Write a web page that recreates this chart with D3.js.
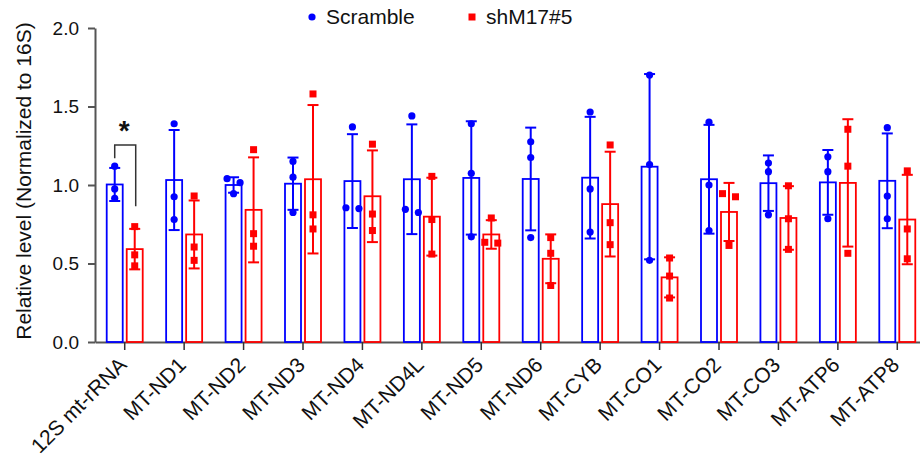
<!DOCTYPE html>
<html>
<head>
<meta charset="utf-8">
<script src="https://cdn.jsdelivr.net/npm/d3@7"></script>
<style>
  body { margin: 0; background: #fff; }
  svg text { font-family: "Liberation Sans", Arial, sans-serif; fill: #111; }
</style>
</head>
<body>
<div id="chart"></div>
<script>
var width = 920, height = 461;

// genes on the x axis
var categories = ["12S mt-rRNA", "MT-ND1", "MT-ND2", "MT-ND3", "MT-ND4", "MT-ND4L", "MT-ND5",
    "MT-ND6", "MT-CYB", "MT-CO1", "MT-CO2", "MT-CO3", "MT-ATP6", "MT-ATP8"];

// three replicates per gene
var scramble = [
    [1.12, 0.975, 0.915],
    [1.39, 0.925, 0.78],
    [1.04, 1.015, 0.945],
    [1.15, 1.05, 0.825],
    [1.37, 0.85, 0.855],
    [1.44, 0.825, 0.845],
    [1.39, 1.075, 0.67],
    [1.275, 1.175, 0.665],
    [1.465, 0.975, 0.70],
    [1.70, 1.13, 0.52],
    [1.40, 1.00, 0.71],
    [1.14, 1.085, 0.81],
    [1.18, 1.085, 0.785],
    [1.365, 0.93, 0.785]
];
var shM17 = [
    [0.735, 0.555, 0.485],
    [0.93, 0.605, 0.52],
    [1.225, 0.69, 0.61],
    [1.58, 0.81, 0.72],
    [1.26, 0.815, 0.71],
    [1.055, 0.78, 0.56],
    [0.79, 0.63, 0.635],
    [0.665, 0.565, 0.36],
    [1.255, 0.76, 0.62],
    [0.535, 0.42, 0.28],
    [0.945, 0.925, 0.615],
    [0.995, 0.785, 0.59],
    [1.355, 1.12, 0.565],
    [1.09, 0.72, 0.53]
];

var seriesNames = ["Scramble", "shM17#5"];
var seriesColors = ["#0000ff", "#ff0000"];
var yTicks = [0, 0.5, 1.0, 1.5, 2.0];

// significance bracket on 12S: [top, left leg end, right leg end]
var sigBracket = [1.255, 1.17, 0.865];

var svg = d3.select("#chart")
    .append("svg")
        .attr("width", width)
        .attr("height", height);

var x = d3.scaleBand()
    .domain(categories)
    .range([95, 927]);

var y = d3.scaleLinear()
    .domain([0, 2])
    .range([342, 28]);

// y axis
var yaxis = svg.append("g")
    .attr("transform", "translate(95,0)")
    .call(d3.axisLeft(y).tickValues(yTicks).tickFormat(d3.format(".1f")).tickSize(7).tickSizeOuter(0).tickPadding(9));
yaxis.select(".domain").attr("stroke", "#555").attr("stroke-width", 2);
yaxis.selectAll(".tick line").attr("stroke", "#555").attr("stroke-width", 2);
yaxis.selectAll("text").style("font-size", "19px").attr("fill", "#111");

// x axis
var xaxis = svg.append("g")
    .attr("transform", "translate(0,342)")
    .call(d3.axisBottom(x).tickSize(8).tickSizeOuter(0));
xaxis.select(".domain").attr("stroke", "#555").attr("stroke-width", 2);
xaxis.selectAll(".tick line").attr("stroke", "#333").attr("stroke-width", 1.5);
xaxis.selectAll("text")
    .style("font-size", "21px")
    .attr("fill", "#111")
    .attr("text-anchor", "end")
    .attr("x", 0).attr("y", 0)
    .attr("dy", "0.35em")
    .attr("transform", "translate(-2,19) rotate(-45)");

svg.append("text")
    .attr("transform", "translate(31,181) rotate(-90)")
    .attr("text-anchor", "middle")
    .style("font-size", "21px")
    .text("Relative level (Normalized to 16S)");

// one entry per bar
var groups = [];
[scramble, shM17].forEach(function(series, s) {
    series.forEach(function(vals, i) {
        groups.push({
            cat: categories[i],
            s: s,
            vals: vals,
            mean: d3.mean(vals),
            sd: d3.deviation(vals)
        });
    });
});

function barCenter(d) {
    return x(d.cat) + x.bandwidth() / 2 + (d.s === 0 ? -10 : 10);
}

// bars (outlined)
svg.append("g").selectAll("rect")
    .data(groups)
    .enter().append("rect")
        .attr("x", function(d) { return barCenter(d) - 8; })
        .attr("y", function(d) { return y(d.mean); })
        .attr("width", 16)
        .attr("height", function(d) { return y(0) - y(d.mean); })
        .attr("fill", "none")
        .attr("stroke", function(d) { return seriesColors[d.s]; })
        .attr("stroke-width", 1.8);

// error bars, mean +/- SD
var err = svg.append("g").selectAll("g")
    .data(groups)
    .enter().append("g")
        .attr("stroke", function(d) { return seriesColors[d.s]; })
        .attr("stroke-width", 2);
err.append("line")
    .attr("x1", barCenter).attr("x2", barCenter)
    .attr("y1", function(d) { return y(d.mean - d.sd); })
    .attr("y2", function(d) { return y(d.mean + d.sd); });
err.append("line")
    .attr("x1", function(d) { return barCenter(d) - 5.5; })
    .attr("x2", function(d) { return barCenter(d) + 5.5; })
    .attr("y1", function(d) { return y(d.mean + d.sd); })
    .attr("y2", function(d) { return y(d.mean + d.sd); });
err.append("line")
    .attr("x1", function(d) { return barCenter(d) - 5.5; })
    .attr("x2", function(d) { return barCenter(d) + 5.5; })
    .attr("y1", function(d) { return y(d.mean - d.sd); })
    .attr("y2", function(d) { return y(d.mean - d.sd); });

// points, spread sideways when they would overlap
var points = [];
groups.forEach(function(g) {
    var sorted = g.vals.slice().sort(d3.descending);
    var clusters = [[sorted[0]]];
    for (var k = 1; k < sorted.length; k++) {
        var last = clusters[clusters.length - 1];
        if (y(sorted[k]) - y(last[last.length - 1]) < 6) last.push(sorted[k]);
        else clusters.push([sorted[k]]);
    }
    clusters.forEach(function(c) {
        c.forEach(function(v, j) {
            points.push({ s: g.s, v: v, cx: barCenter(g) + (j - (c.length - 1) / 2) * 13 });
        });
    });
});

svg.append("g").selectAll("circle")
    .data(points.filter(function(p) { return p.s === 0; }))
    .enter().append("circle")
        .attr("cx", function(p) { return p.cx; })
        .attr("cy", function(p) { return y(p.v); })
        .attr("r", 3.6)
        .attr("fill", seriesColors[0]);

svg.append("g").selectAll("rect")
    .data(points.filter(function(p) { return p.s === 1; }))
    .enter().append("rect")
        .attr("x", function(p) { return p.cx - 3.5; })
        .attr("y", function(p) { return y(p.v) - 3.5; })
        .attr("width", 7)
        .attr("height", 7)
        .attr("fill", seriesColors[1]);

// significance bracket
var c0 = x(categories[0]) + x.bandwidth() / 2;
svg.append("path")
    .attr("d", "M" + (c0 - 10) + "," + y(sigBracket[1]) +
               "V" + y(sigBracket[0]) +
               "H" + (c0 + 11) +
               "V" + y(sigBracket[2]))
    .attr("fill", "none")
    .attr("stroke", "#333")
    .attr("stroke-width", 1.5);
svg.append("text")
    .attr("x", c0 - 0.5)
    .attr("y", 140)
    .attr("text-anchor", "middle")
    .style("font-size", "28px")
    .style("font-weight", "bold")
    .text("*");

// legend
var legendX = [312, 472];
seriesNames.forEach(function(name, s) {
    if (s === 0) {
        svg.append("circle").attr("cx", legendX[s]).attr("cy", 17).attr("r", 3.6).attr("fill", seriesColors[s]);
    } else {
        svg.append("rect").attr("x", legendX[s] - 3.5).attr("y", 13.5).attr("width", 7).attr("height", 7).attr("fill", seriesColors[s]);
    }
    svg.append("text")
        .attr("x", legendX[s] + 14)
        .attr("y", 24)
        .style("font-size", "21px")
        .text(name);
});
</script>
</body>
</html>
